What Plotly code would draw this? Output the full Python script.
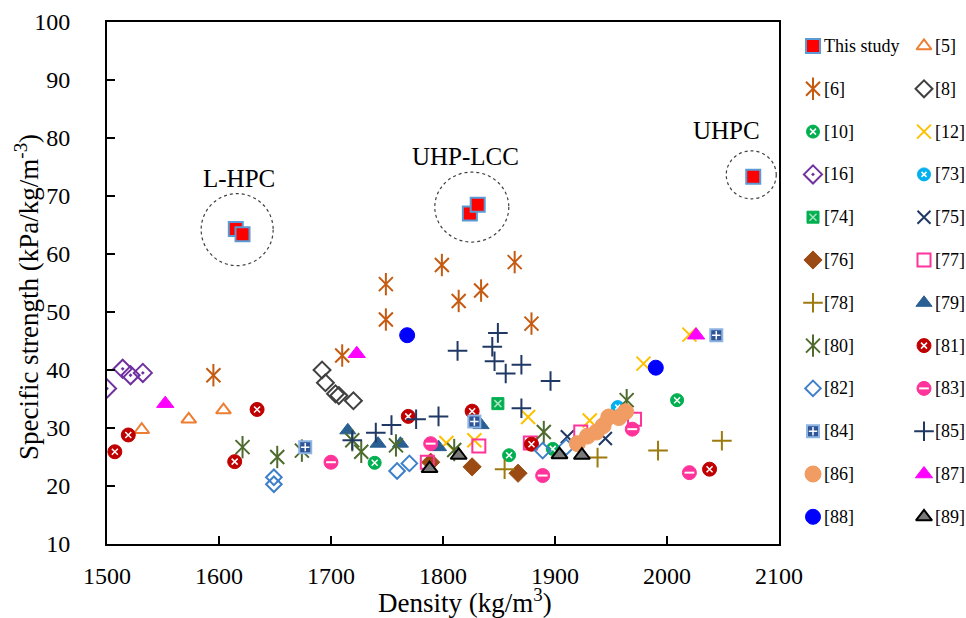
import plotly.graph_objects as go

# ---------------- data (density kg/m3, specific strength kPa/kg/m-3) ----------------
this_x = [1615, 1621, 1824, 1831, 2077]
this_y = [64.3, 63.4, 67.0, 68.5, 73.3]
this_group = ["L-HPC", "L-HPC", "UHP-LCC", "UHP-LCC", "UHPC"]

r5_x = [1531, 1573, 1604]
r5_y = [29.7, 31.5, 33.1]
r6_x = [1595, 1710, 1749, 1749, 1799, 1814, 1834, 1864, 1879]
r6_y = [39.1, 42.5, 54.8, 48.7, 58.1, 51.9, 53.7, 58.6, 48.0]
r8_x = [1692, 1695, 1704, 1707, 1720]
r8_y = [40.0, 37.8, 35.9, 35.6, 34.7]
r10_x = [1739, 1859, 1898, 2009]
r10_y = [24.0, 25.3, 26.4, 34.8]
r12_x = [1803, 1828, 1876, 1931, 1979, 2020]
r12_y = [27.4, 27.9, 31.9, 31.3, 41.1, 46.1]
r16_x = [1500, 1514, 1521, 1532]
r16_y = [36.8, 40.2, 39.1, 39.5]
r73_x = [1956]
r73_y = [33.6]
r74_x = [1849]
r74_y = [34.2]
r75_x = [1911, 1945]
r75_y = [28.5, 28.2]
r76_x = [1789, 1826, 1867]
r76_y = [24.1, 23.3, 22.2]
r77_x = [1786, 1832, 1878, 1923, 1971]
r77_y = [24.1, 26.9, 27.4, 29.3, 31.5]
r78_x = [1855, 1938, 1992, 2049]
r78_y = [22.9, 24.9, 26.1, 27.8]
r79_x = [1715, 1742, 1762, 1796, 1834]
r79_y = [29.6, 27.3, 27.3, 26.7, 30.5]
r80_x = [1621, 1652, 1674, 1719, 1727, 1758, 1810, 1890, 1964]
r80_y = [26.7, 25.0, 26.1, 27.9, 25.9, 27.0, 26.2, 29.3, 34.8]
r81_x = [1507, 1519, 1614, 1634, 1769, 1826, 1879, 2038]
r81_y = [25.9, 28.8, 24.2, 33.2, 32.0, 32.9, 27.2, 22.9]
r82_x = [1649, 1649, 1759, 1770, 1889, 1910]
r82_y = [21.5, 20.3, 22.6, 23.9, 26.1, 26.7]
r83_x = [1700, 1789, 1889, 1969, 2020]
r83_y = [24.1, 27.3, 21.8, 29.8, 22.3]
r84_x = [1677, 1828, 2044]
r84_y = [26.7, 31.1, 46.0]
r85_x = [1719, 1740, 1754, 1776, 1796, 1813, 1844, 1846, 1849, 1856, 1870, 1870, 1896]
r85_y = [27.9, 29.2, 30.5, 31.5, 32.0, 43.3, 44.0, 41.5, 46.4, 39.4, 40.9, 33.4, 38.1]
r86_x = [1920, 1929, 1937, 1943, 1948, 1957, 1963]
r86_y = [27.3, 28.6, 29.3, 30.4, 31.9, 31.8, 32.8]
r87_x = [1552, 1723, 2026]
r87_y = [34.2, 42.8, 46.0]
r88_x = [1768, 1990]
r88_y = [46.0, 40.4]
r89_x = [1788, 1814, 1904, 1924]
r89_y = [23.0, 25.3, 25.4, 25.3]

series_names = ["This study", "[5]", "[6]", "[8]", "[10]", "[12]", "[16]", "[73]", "[74]", "[75]",
                "[76]", "[77]", "[78]", "[79]", "[80]", "[81]", "[82]", "[83]", "[84]", "[85]",
                "[86]", "[87]", "[88]", "[89]"]
series_x = [this_x, r5_x, r6_x, r8_x, r10_x, r12_x, r16_x, r73_x, r74_x, r75_x, r76_x, r77_x, r78_x,
            r79_x, r80_x, r81_x, r82_x, r83_x, r84_x, r85_x, r86_x, r87_x, r88_x, r89_x]
series_y = [this_y, r5_y, r6_y, r8_y, r10_y, r12_y, r16_y, r73_y, r74_y, r75_y, r76_y, r77_y, r78_y,
            r79_y, r80_y, r81_y, r82_y, r83_y, r84_y, r85_y, r86_y, r87_y, r88_y, r89_y]

x_ticks = [1500, 1600, 1700, 1800, 1900, 2000, 2100]
y_ticks = [10, 20, 30, 40, 50, 60, 70, 80, 90, 100]
x_title = "Density (kg/m<sup>3</sup>)"
y_title = "Specific strength (kPa/kg/m<sup>-3</sup>)"

# ---------------- styles ----------------
# each style: list of marker layers (symbol, size, fill, line color, line width)
W = "white"
styles = {
    "This study": [("square", 14, "#FF0000", "#5B9BD5", 2)],
    "[5]": [("triangle-up-open", 13, "#ED7D31", "#ED7D31", 2)],
    "[6]": [("x-thin-open", 14, "#C55A11", "#C55A11", 2), ("line-ns-open", 16, "#C55A11", "#C55A11", 2)],
    "[8]": [("diamond-open", 13, "#404040", "#404040", 2)],
    "[10]": [("circle", 13, "#00B050", "#00B050", 1), ("x-thin-open", 6, W, W, 1.5)],
    "[12]": [("x-thin-open", 14, "#FFC000", "#FFC000", 2)],
    "[16]": [("diamond-open-dot", 14, "#7030A0", "#7030A0", 2)],
    "[73]": [("circle", 13, "#00B0F0", "#00B0F0", 1), ("x-thin-open", 5, W, W, 1.5)],
    "[74]": [("square", 12, "#00B050", "#00B050", 1), ("x-thin-open", 7, "#A9E2BE", "#A9E2BE", 1.5)],
    "[75]": [("x-thin-open", 13, "#203864", "#203864", 2)],
    "[76]": [("diamond", 14, "#9C4A13", "#9C4A13", 1)],
    "[77]": [("square-open", 13, "#FF3399", "#FF3399", 2)],
    "[78]": [("cross-thin-open", 14, "#9C7A0E", "#9C7A0E", 2)],
    "[79]": [("triangle-up", 14, "#2A5F93", "#2A5F93", 1)],
    "[80]": [("x-thin-open", 14, "#4E6B2E", "#4E6B2E", 2), ("line-ns-open", 16, "#4E6B2E", "#4E6B2E", 2)],
    "[81]": [("circle", 14, "#C00000", "#C00000", 1), ("x-thin-open", 6, W, W, 1.5)],
    "[82]": [("diamond-open", 12, "#3D7FC8", "#3D7FC8", 2)],
    "[83]": [("circle", 14, "#FF3399", "#FF3399", 1), ("line-ew-open", 7, W, W, 2)],
    "[84]": [("square", 12, "#2F5597", "#8DB4E2", 2), ("cross-thin-open", 6, W, W, 1.5)],
    "[85]": [("cross-thin-open", 14, "#1F3864", "#1F3864", 2)],
    "[86]": [("circle", 16, "#F19C62", "#F19C62", 1)],
    "[87]": [("triangle-up", 15, "#FF00FF", "#FF00FF", 1)],
    "[88]": [("circle", 15, "#0000FF", "#0000FF", 1)],
    "[89]": [("triangle-up", 14, "#7A7A7A", "#000000", 2)],
}

FONT = "Liberation Serif, Times New Roman, serif"

fig = go.Figure()


def add_series(xs, ys, style, xaxis="x", yaxis="y"):
    for sym, size, fill, lcol, lw in style:
        fig.add_trace(go.Scatter(
            x=xs, y=ys, mode="markers", xaxis=xaxis, yaxis=yaxis,
            marker=dict(symbol=sym, size=size, color=fill, line=dict(color=lcol, width=lw)),
            showlegend=False, hoverinfo="skip" if len(style) > 1 else None,
        ))


for name, xs, ys in zip(series_names, series_x, series_y):
    add_series(xs, ys, styles[name])

# ---------------- manual two-column legend (pixel-unit helper axes) ----------------
leg_col_x = [813, 924]
leg_row_y0, leg_row_dy = 46, 42.8
for i, name in enumerate(series_names):
    col, row = i % 2, i // 2
    lx = leg_col_x[col]
    ly = leg_row_y0 + row * leg_row_dy
    add_series([lx], [ly], styles[name], "x2", "y2")
    fig.add_annotation(x=lx + 9, y=ly, xref="x2", yref="y2", text=name, showarrow=False,
                       xanchor="left", yanchor="middle", font=dict(family=FONT, size=18, color="black"))

# ---------------- group circles and labels ----------------
groups = {"L-HPC": (36, 36, 0, 53), "UHP-LCC": (37, 35, -8, 53), "UHPC": (25, 24, -27, 46)}
for g, (rx, ry, dx, dy) in groups.items():
    gx = [x for x, gg in zip(this_x, this_group) if gg == g]
    gy = [y for y, gg in zip(this_y, this_group) if gg == g]
    cx, cy = sum(gx) / len(gx), sum(gy) / len(gy)
    fig.add_shape(type="circle", xref="x", yref="y", xsizemode="pixel", ysizemode="pixel",
                  xanchor=cx, yanchor=cy, x0=-rx - 2, x1=rx - 2, y0=-ry + 2, y1=ry + 2,
                  line=dict(color="#404040", width=1.2, dash="dot"), layer="below")
    fig.add_annotation(x=cx, y=cy, xref="x", yref="y", text=g, showarrow=False,
                       xshift=dx, yshift=dy, font=dict(family=FONT, size=25, color="black"))

PW = 966 - 107
# axis titles (placed as in the reference: x title right of plot centre)
fig.add_annotation(x=(465 - 107) / PW, y=0, xref="paper", yref="paper", yshift=-57,
                   text=x_title, showarrow=False, xanchor="center", yanchor="middle",
                   font=dict(family=FONT, size=27, color="black"))
fig.add_annotation(x=(27 - 107) / PW, y=0.473, xref="paper", yref="paper", textangle=-90,
                   text=y_title, showarrow=False, xanchor="center", yanchor="middle",
                   font=dict(family=FONT, size=27, color="black"))

fig.update_layout(
    width=966, height=618,
    margin=dict(l=107, r=0, t=22, b=74, autoexpand=False),
    paper_bgcolor="white", plot_bgcolor="white",
    font=dict(family=FONT, color="black"),
    xaxis=dict(domain=[0, (779 - 107) / PW], range=[1500, 2100], tickvals=x_ticks,
               ticks="inside", ticklen=8, tickwidth=1.5, tickcolor="black",
               showline=True, linecolor="black", linewidth=2, mirror=True, automargin=False,
               showgrid=False, zeroline=False, tickfont=dict(family=FONT, size=24),
               ticklabelstandoff=9),
    yaxis=dict(domain=[0, 1], range=[10, 100], tickvals=y_ticks,
               ticks="inside", ticklen=8, tickwidth=1.5, tickcolor="black",
               showline=True, linecolor="black", linewidth=2, mirror=True, automargin=False,
               showgrid=False, zeroline=False, tickfont=dict(family=FONT, size=24),
               ticklabelstandoff=30),
    xaxis2=dict(domain=[(800 - 107) / PW, 1], range=[800, 966], visible=False, anchor="y2",
                automargin=False),
    yaxis2=dict(domain=[0, 1], range=[544, 22], visible=False, anchor="x2", automargin=False),
)

fig.write_html("out.html")
